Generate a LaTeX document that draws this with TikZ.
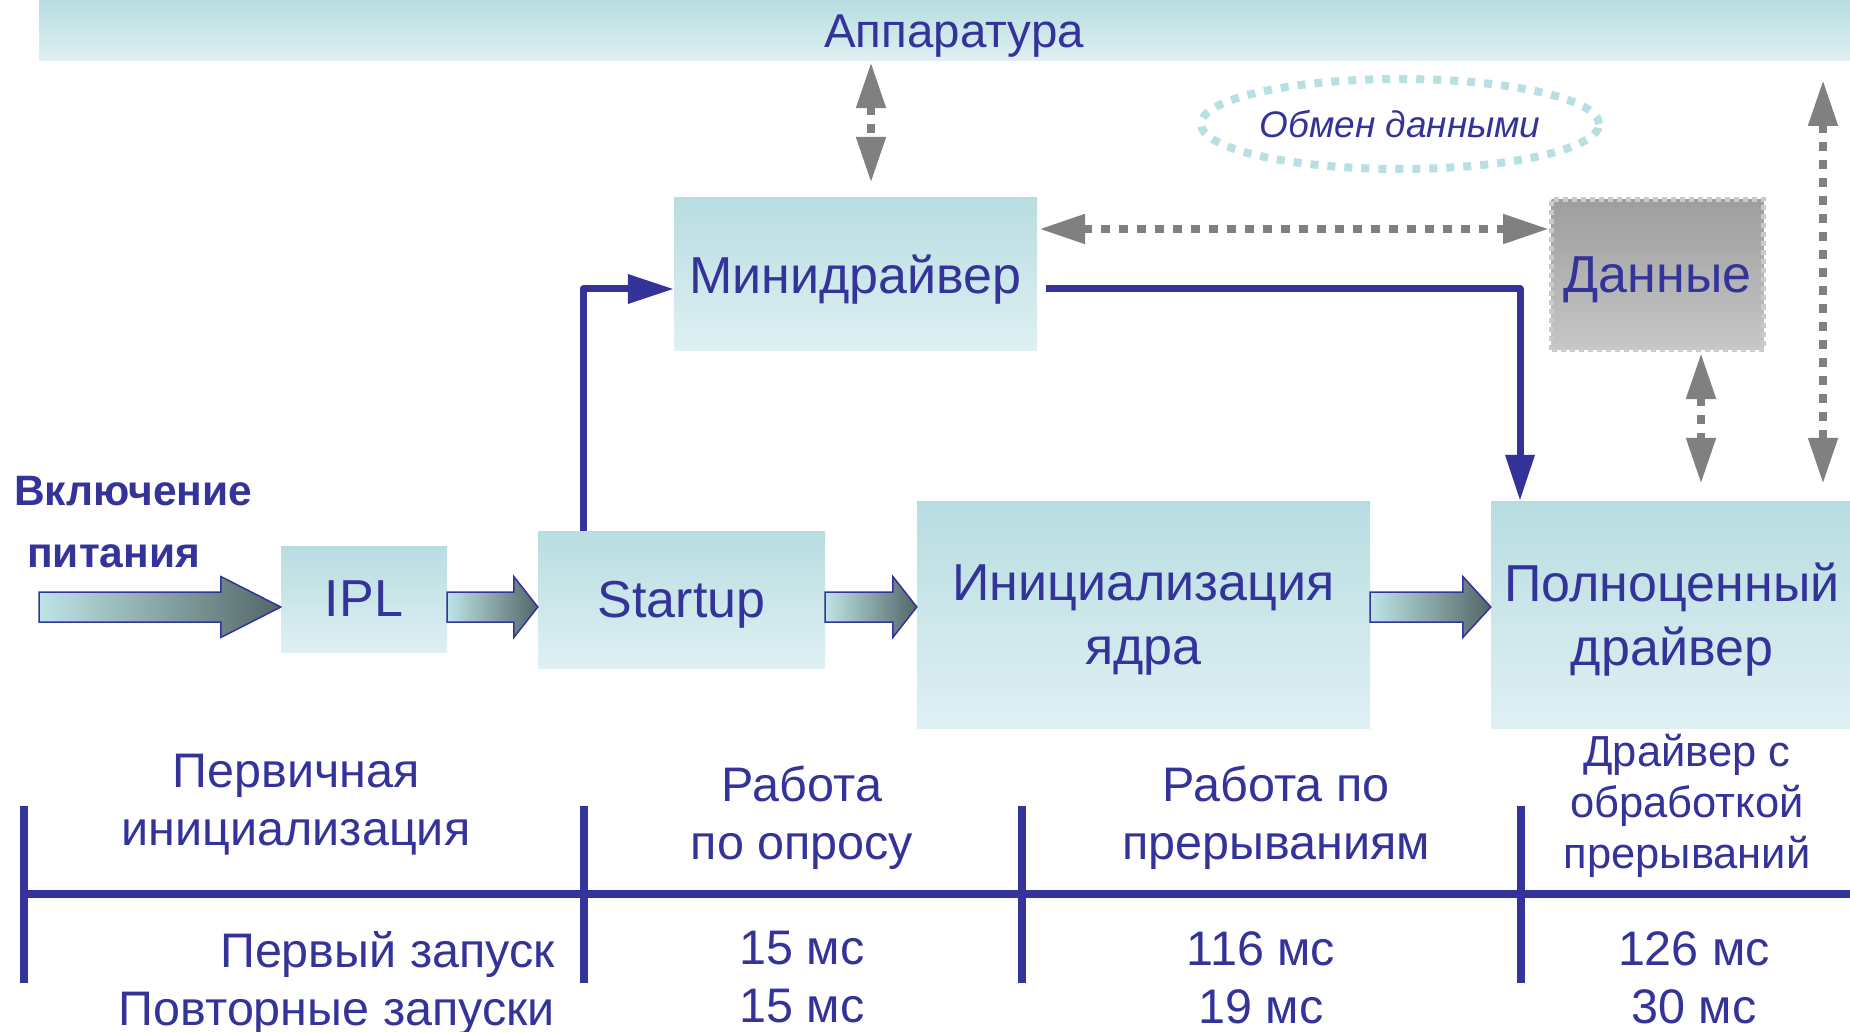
\documentclass[tikz,border=0pt]{standalone}
\usepackage{fontspec}
\setmainfont{Liberation Sans}
\usetikzlibrary{arrows.meta,shapes.geometric,calc}
\definecolor{ink}{RGB}{51,51,153}
\definecolor{tealtop}{RGB}{184,221,225}
\definecolor{tealbot}{RGB}{223,240,243}
\definecolor{arrgray}{RGB}{128,128,128}
\definecolor{dotteal}{RGB}{184,223,226}
\definecolor{arrlight}{RGB}{190,228,232}
\definecolor{arrdark}{RGB}{82,102,102}
\definecolor{datatop}{RGB}{158,158,158}
\definecolor{databot}{RGB}{198,198,198}
\definecolor{databorder}{RGB}{202,202,202}
\newcommand\GrArrow[3]{%
  \shadedraw[garrow] ($(#1 |- ay)+(0,-15)$) -- ($(#2.west |- ay)+(-#3,-15)$)
    -- ($(#2.west |- ay)+(-#3,-30.5)$) -- (#2.west |- ay)
    -- ($(#2.west |- ay)+(-#3,30.5)$) -- ($(#2.west |- ay)+(-#3,15)$)
    -- ($(#1 |- ay)+(0,15)$) -- cycle;}
\begin{document}
\begin{tikzpicture}[x=1pt,y=-1pt,
  box/.style={rectangle, top color=tealtop, bottom color=tealbot, draw=none,
    text=ink, inner sep=0pt, align=center, text depth=0pt,
    font=\fontsize{52}{64}\selectfont},
  databox/.style={rectangle, top color=datatop, bottom color=databot,
    draw=databorder, line width=5pt, dash pattern=on 5pt off 4pt,
    text=ink, inner sep=0pt, text depth=0pt, font=\fontsize{52}{64}\selectfont},
  garrow/.style={left color=arrlight, right color=arrdark, draw=ink, line width=1.5pt},
  gdots/.style={draw=arrgray, line width=8pt, dash pattern=on 9pt off 9pt,
    arrows={Triangle[length=46pt,width=28pt,fill=arrgray]-Triangle[length=46pt,width=28pt,fill=arrgray]}},
  barr/.style={draw=ink, line width=7pt, line join=round,
    arrows={-Triangle[length=46pt,width=28pt,fill=ink]}},
  tline/.style={draw=ink, line width=8.5pt},
  tick/.style={draw=ink, line width=8.5pt},
  lab/.style={text=ink, inner sep=0pt, align=center, font=\fontsize{48.5}{58}\selectfont},
]
\clip (0,0) rectangle (1850,1032);
\fill[white] (0,0) rectangle (1850,1032);

% top bar
\node[rectangle, top color=tealtop, bottom color=tealbot, minimum width=1830pt,
  minimum height=60pt, inner sep=0pt, text=ink, text depth=0pt,
  font=\fontsize{47.5}{56}\selectfont]
  (bar) at (954,31) {Аппаратура};

% ellipse
\node[ellipse, draw=dotteal, line width=8pt, dash pattern=on 8pt off 9pt,
  minimum width=398pt, minimum height=90pt, inner sep=0pt, text=ink,
  font=\itshape\fontsize{37}{44}\selectfont] (ex) at (1400,124) {Обмен данными};

% boxes
\node[box, minimum width=363pt, minimum height=152pt] (mini) at (855.5,274) {Минидрайвер};
\node[databox, minimum width=212pt, minimum height=150pt] (data) at (1657.5,274.5) {Данные};
\node[box, minimum width=166pt, minimum height=106pt] (ipl) at (364,599) {IPL};
\node[box, minimum width=287pt, minimum height=137pt] (start) at (681.5,599.5) {Startup};
\node[box, minimum width=453pt, minimum height=227pt] (init) at (1143.5,614.5) {Инициализация\\ядра};
\node[box, minimum width=362pt, minimum height=227pt] (full) at (1672,614.5) {Полноценный\\драйвер};

% power label
\node[text=ink, inner sep=0pt, align=left, anchor=north west,
  font=\bfseries\fontsize{42.5}{62}\selectfont] (pw) at (14,476) {Включение\\\hspace*{13pt}питания};

% helper coordinates
\coordinate (ay) at (0,607);
\coordinate (pwr) at (39,607);
\coordinate (hy) at (0,229);
\coordinate (vx) at (871,0);
\coordinate (by) at (0,289);
\coordinate (bx) at (583,0);
\coordinate (dx) at (1520,0);
\coordinate (rx) at (1823,0);
\coordinate (rtop) at (1823,80);
\coordinate (sx) at (1701,0);

% gradient arrows
\GrArrow{pwr}{ipl}{60}
\GrArrow{ipl.east}{start}{24}
\GrArrow{start.east}{init}{24}
\GrArrow{init.east}{full}{28}

% gray dotted double arrows
\draw[gdots] ($(bar.south -| vx)+(0,1)$) -- ($(mini.north -| vx)+(0,-15)$);
\draw[gdots] ($(mini.east |- hy)+(2,0)$) -- (data.west |- hy);
\draw[gdots] (rtop) -- ($(full.north -| rx)+(0,-17)$);
\draw[gdots] ($(data.south -| sx)+(0,1)$) -- ($(full.north -| sx)+(0,-17)$);

% blue arrows
\draw[barr] (start.north -| bx) |- (mini.west |- by);
\draw[barr] ($(mini.east |- by)+(9,0)$) -| (full.north -| dx);

% timeline
\coordinate (tlL) at (21,894);
\coordinate (tlR) at (1860,894);
\draw[tline] (tlL) -- (tlR);
\foreach \x/\n in {24/t1,584/t2,1022/t3,1521/t4}{
  \coordinate (\n-a) at (\x,806);
  \coordinate (\n-b) at (\x,983);
  \draw[tick] (\n-a) -- (\n-b);
}

% phase labels
\node[lab, anchor=north] (l1) at (296,754) {Первичная\\инициализация};
\node[lab, anchor=north] (l2) at (802,766) {Работа\\по опросу};
\node[lab, anchor=north] (l3) at (1276,766) {Работа по\\прерываниям};
\node[lab, anchor=north, font=\fontsize{43.5}{51}\selectfont] (l4) at (1687,734) {Драйвер с\\обработкой\\прерываний};

% timings
\node[lab, align=right, anchor=north east] (r0) at (555,931) {Первый запуск\\Повторные запуски};
\node[lab, anchor=north] (r1) at (802,931) {15 мс\\15 мс};
\node[lab, anchor=north] (r2) at (1261,931) {116 мс\\19 мс};
\node[lab, anchor=north] (r3) at (1694,931) {126 мс\\30 мс};
\end{tikzpicture}
\end{document}
